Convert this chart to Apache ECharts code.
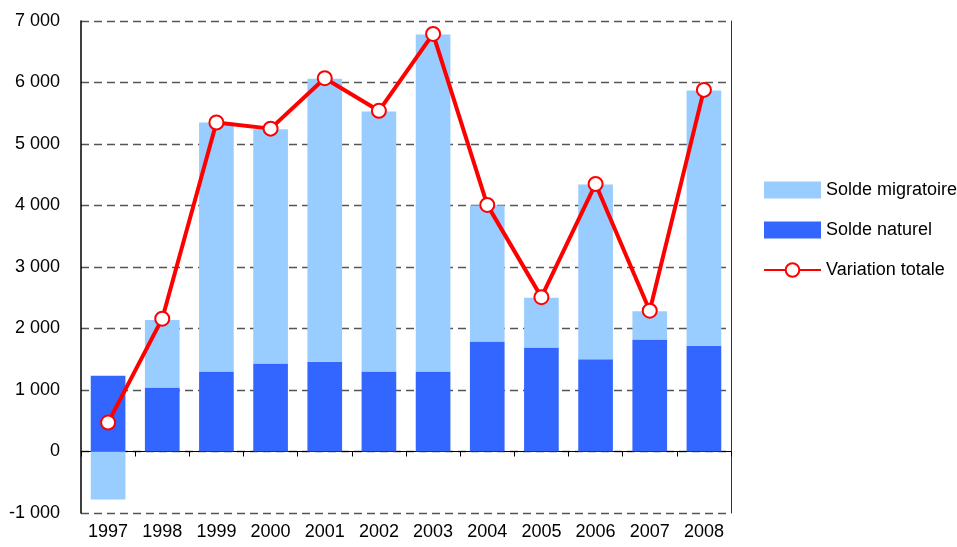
<!DOCTYPE html>
<html>
<head>
<meta charset="utf-8">
<script src="https://cdn.jsdelivr.net/npm/echarts@6/dist/echarts.min.js"></script>
<style>
  html, body { margin: 0; padding: 0; background: #fff; }
  #main { width: 957px; height: 547px; }
</style>
</head>
<body>
<div id="main"></div>
<script>
// années
var annees = ['1997', '1998', '1999', '2000', '2001', '2002', '2003', '2004', '2005', '2006', '2007', '2008'];
// solde naturel (bas de la barre)
var soldeNaturel = [1230, 1040, 1300, 1430, 1460, 1300, 1300, 1790, 1690, 1500, 1820, 1720];
// solde migratoire (empilé au-dessus)
var soldeMigratoire = [-780, 1100, 4050, 3810, 4600, 4230, 5480, 2210, 810, 2840, 460, 4150];
// variation totale (courbe)
var variationTotale = [470, 2160, 5350, 5250, 6070, 5540, 6790, 4010, 2510, 4350, 2290, 5880];

function fmt(v) {
    var s = String(Math.abs(v)).replace(/\B(?=(\d{3})+(?!\d))/g, ' ');
    return (v < 0 ? '-' : '') + s;
}

var myChart = echarts.init(document.getElementById('main'));
var font = '"Liberation Sans", Arial, sans-serif';

var option = {
    animation: false,
    grid: { left: 81, right: 226, top: 21, bottom: 34 },
    legend: {
        orient: 'vertical',
        left: 763,
        top: 181,
        padding: 0,
        itemWidth: 57,
        itemHeight: 17,
        itemGap: 22,
        textStyle: { fontFamily: font, fontSize: 18, color: '#000', padding: 0 },
        data: [
            { name: 'Solde migratoire', icon: 'rect' },
            { name: 'Solde naturel', icon: 'rect' },
            { name: 'Variation totale' }
        ]
    },
    xAxis: [
        {
            type: 'category',
            data: annees,
            axisLine: { onZero: true, lineStyle: { color: '#000', width: 1 } },
            axisTick: { show: true, length: 5, inside: false, lineStyle: { color: '#000' } },
            axisLabel: { show: false }
        },
        {
            type: 'category',
            data: annees,
            position: 'bottom',
            axisLine: { onZero: false, show: false },
            axisTick: { show: false },
            axisLabel: { fontFamily: font, fontSize: 18, color: '#000', margin: 10, interval: 0 }
        }
    ],
    yAxis: [
        {
            type: 'value',
            min: -1000,
            max: 7000,
            interval: 1000,
            axisLine: { show: true, lineStyle: { color: '#000', width: 1.5 } },
            axisTick: { show: false },
            axisLabel: { fontFamily: font, fontSize: 18, color: '#000', margin: 21, formatter: fmt },
            splitLine: { show: true, lineStyle: { color: '#555', width: 1.3, type: [8, 5] } }
        },
        {
            type: 'value',
            min: -1000,
            max: 7000,
            interval: 1000,
            position: 'right',
            axisLine: { show: true, lineStyle: { color: '#333', width: 1 } },
            axisTick: { show: false },
            axisLabel: { show: false },
            splitLine: { show: false }
        }
    ],
    series: [
        {
            name: 'Solde naturel',
            type: 'bar',
            stack: 'solde',
            barWidth: '64%',
            itemStyle: { color: '#3366FF' },
            data: soldeNaturel
        },
        {
            name: 'Solde migratoire',
            type: 'bar',
            stack: 'solde',
            barWidth: '64%',
            itemStyle: { color: '#99CCFF' },
            data: soldeMigratoire
        },
        {
            name: 'Variation totale',
            type: 'line',
            symbol: 'circle',
            symbolSize: 14,
            lineStyle: { color: '#FF0000', width: 4 },
            itemStyle: { color: '#FFFFFF', borderColor: '#FF0000', borderWidth: 2 },
            z: 5,
            data: variationTotale
        }
    ]
};

myChart.setOption(option);
</script>
</body>
</html>
